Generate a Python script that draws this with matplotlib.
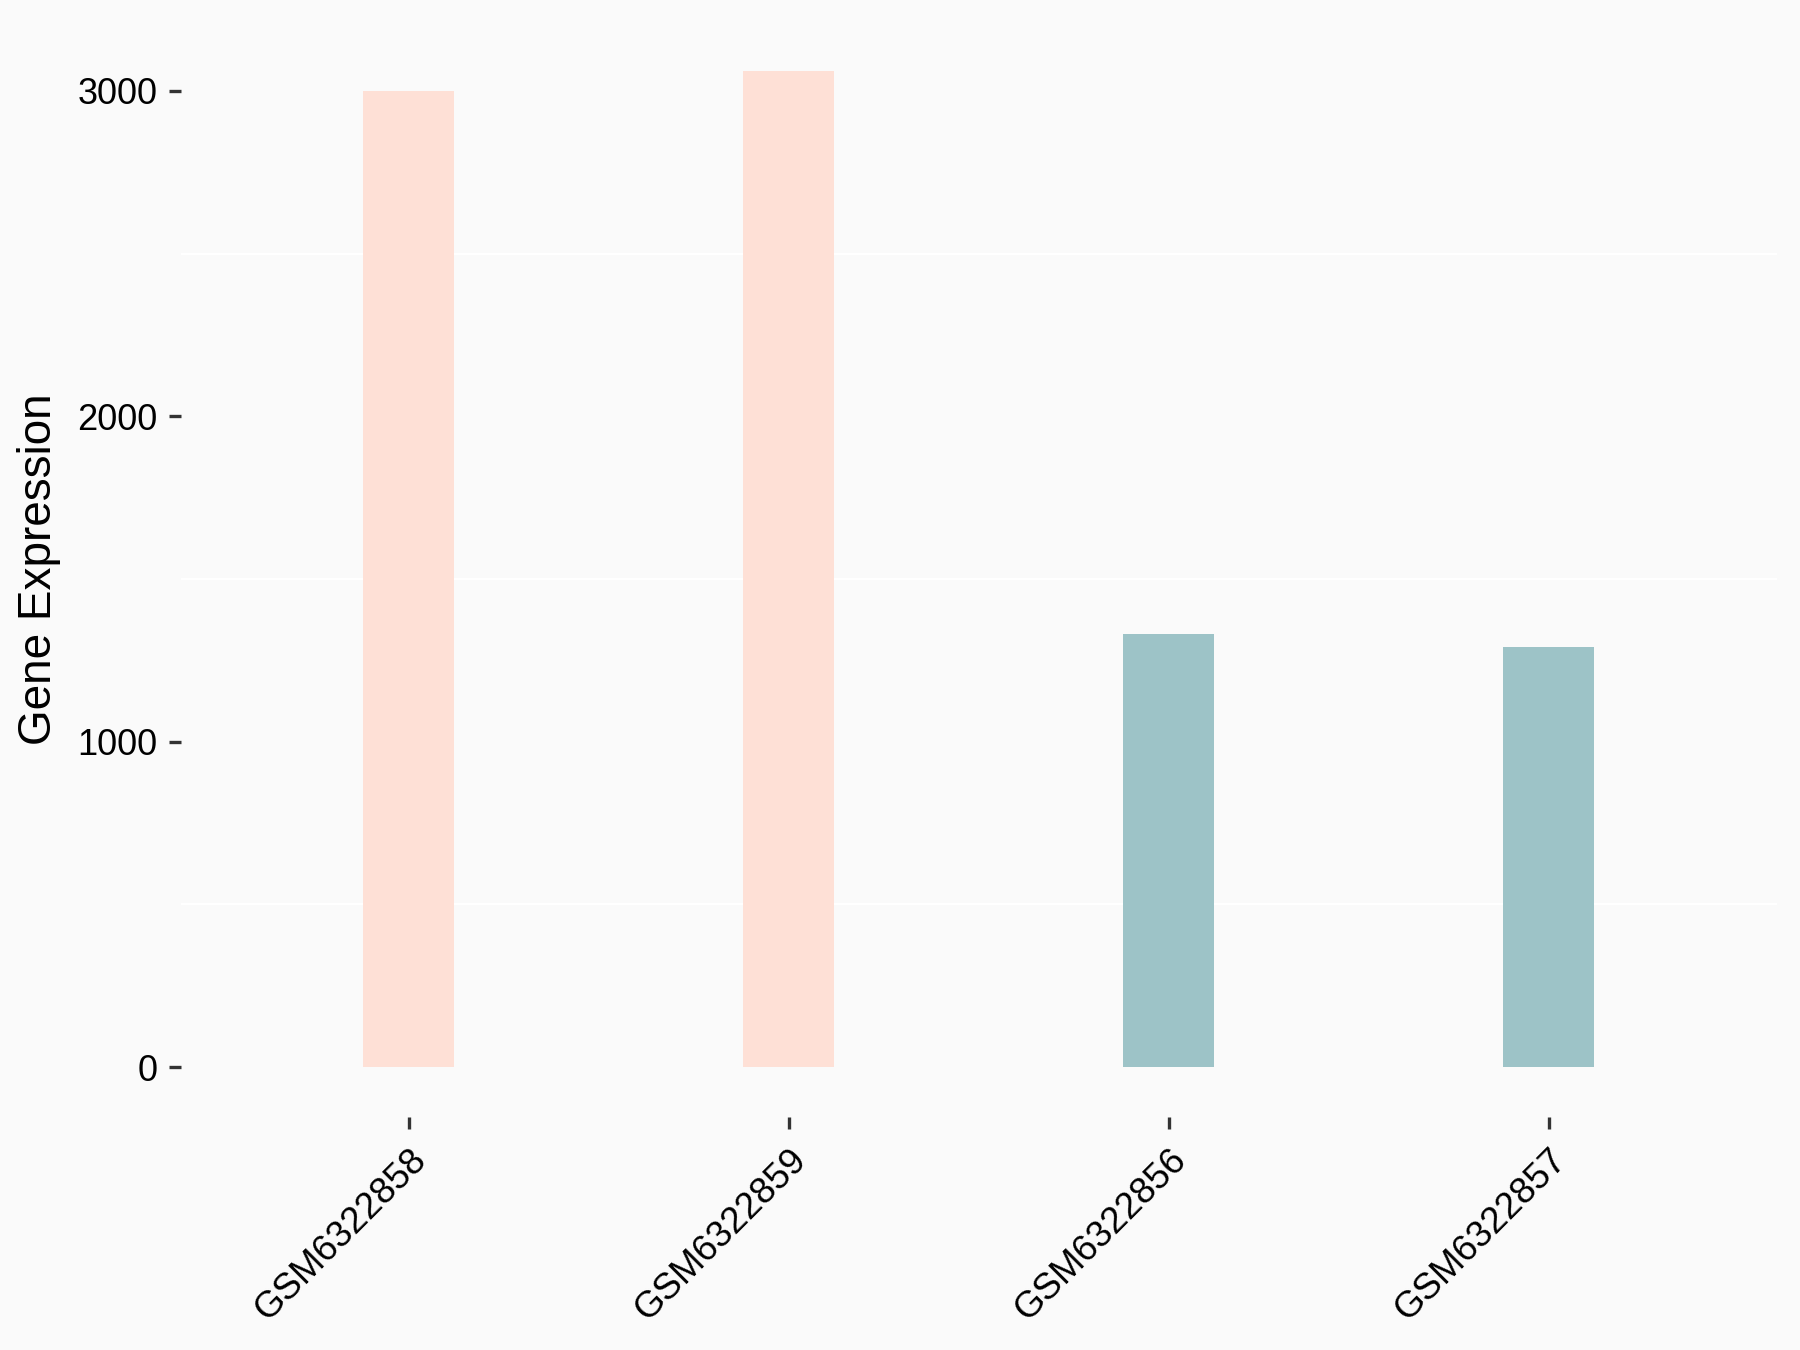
import matplotlib
matplotlib.use("Agg")
import matplotlib.pyplot as plt
import numpy as np

samples = ["GSM6322858", "GSM6322859", "GSM6322856", "GSM6322857"]
values = [3000, 3060, 1332, 1290]
groups = ["A", "A", "B", "B"]
group_colors = {"A": "#FEE0D6", "B": "#9DC3C7"}
y_ticks = [0, 1000, 2000, 3000]
y_minor = [500, 1500, 2500]

plt.rcParams['font.family'] = ['Liberation Sans', 'DejaVu Sans']

bg = "#FAFAFA"
fig = plt.figure(figsize=(18, 13.5), dpi=100, facecolor=bg)
ax = fig.add_axes([0.1004, 0.1726, 0.8866, 0.8114], facecolor=bg)

x = np.arange(1, len(samples) + 1)
ax.bar(x, values, width=0.24, color=[group_colors[g] for g in groups], zorder=2)

ymax = max(values)
ax.set_ylim(-0.05 * ymax, 1.05 * ymax)
ax.set_xlim(0.4, len(samples) + 0.6)

ax.set_yticks(y_ticks)
ax.set_yticklabels([str(v) for v in y_ticks])
ax.set_yticks(y_minor, minor=True)
ax.grid(True, which="minor", axis="y", color="white", linewidth=1.5, zorder=0)
ax.tick_params(axis="y", which="minor", length=0)

ax.set_xticks(x)
ax.set_xticklabels(samples, rotation=45, ha="right", va="top", rotation_mode="anchor")

for s in ax.spines.values():
    s.set_visible(False)

ax.tick_params(axis="both", which="major", length=8.5, width=2.4, color="#333333",
               labelcolor="black")
ax.tick_params(axis="y", which="major", pad=8, labelsize=26)
ax.tick_params(axis="x", which="major", pad=10, labelsize=26.5)

ax.set_ylabel("Gene Expression", fontsize=33, labelpad=12)

fig.savefig("out.png", dpi=100, facecolor=bg)
